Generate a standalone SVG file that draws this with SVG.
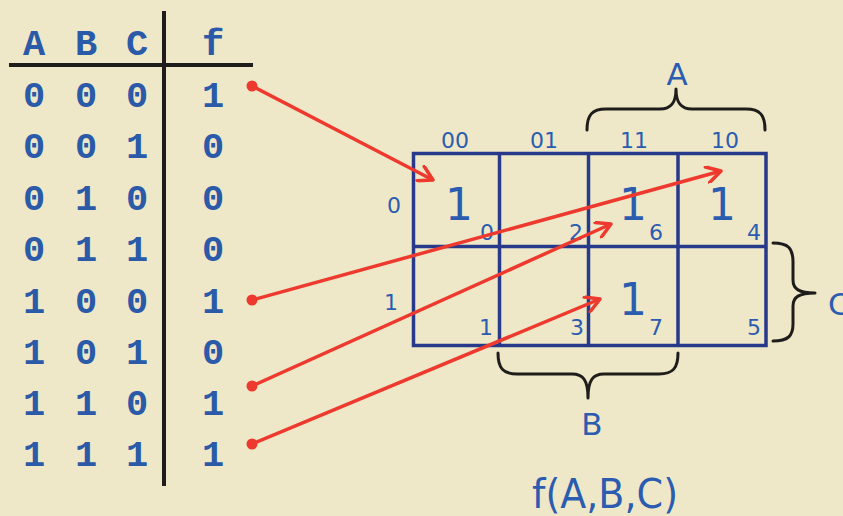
<svg xmlns="http://www.w3.org/2000/svg" width="843" height="516" viewBox="0 0 843 516">
<style>
.tt{font-family:"Liberation Mono","Courier New",monospace;font-weight:bold;font-size:37px;fill:#2a5aa8;text-anchor:middle}
.km{font-family:"DejaVu Sans",Tahoma,sans-serif;fill:#2b5cb0}
.lbl{font-size:22px;text-anchor:middle}
.idx{font-size:22px;text-anchor:end}
.big{font-size:44px;text-anchor:middle}
.var{font-size:31px;text-anchor:middle}
.rule{stroke:#1f1d1b;stroke-width:4;fill:none}
.grid{stroke:#26398a;stroke-width:3.5;fill:none}
.brace{stroke:#1f1d1b;stroke-width:3;fill:none;stroke-linecap:round;stroke-linejoin:round}
.arrow{stroke:#ee3a2e;stroke-width:3.5;fill:none;marker-end:url(#head);marker-start:url(#dot)}
</style>
<defs>
<marker id="head" viewBox="-16 -9 18 18" markerWidth="18" markerHeight="18" refX="0" refY="0" orient="auto" markerUnits="userSpaceOnUse">
<path d="M-14,-8 L0,0 L-14,8" fill="none" stroke="#ee3a2e" stroke-width="3.5" stroke-linecap="round" stroke-linejoin="round"/>
</marker>
<marker id="dot" viewBox="-6 -6 12 12" markerWidth="12" markerHeight="12" refX="0" refY="0" markerUnits="userSpaceOnUse">
<circle cx="0" cy="0" r="5.5" fill="#ee3a2e"/>
</marker>
</defs>
<rect width="843" height="516" fill="#efe8c8"/>

<g id="truth-table">
<line class="rule" x1="164" y1="11" x2="164" y2="486"/>
<line class="rule" x1="9" y1="65" x2="253" y2="65" stroke-width="3.5"/>
<text class="tt" x="34" y="55">A</text><text class="tt" x="86" y="55">B</text><text class="tt" x="137" y="55">C</text><text class="tt" x="213" y="55">f</text>
<text class="tt" x="34" y="107">0</text><text class="tt" x="86" y="107">0</text><text class="tt" x="137" y="107">0</text><text class="tt" x="213" y="107">1</text>
<text class="tt" x="34" y="158">0</text><text class="tt" x="86" y="158">0</text><text class="tt" x="137" y="158">1</text><text class="tt" x="213" y="158">0</text>
<text class="tt" x="34" y="210">0</text><text class="tt" x="86" y="210">1</text><text class="tt" x="137" y="210">0</text><text class="tt" x="213" y="210">0</text>
<text class="tt" x="34" y="261">0</text><text class="tt" x="86" y="261">1</text><text class="tt" x="137" y="261">1</text><text class="tt" x="213" y="261">0</text>
<text class="tt" x="34" y="313">1</text><text class="tt" x="86" y="313">0</text><text class="tt" x="137" y="313">0</text><text class="tt" x="213" y="313">1</text>
<text class="tt" x="34" y="364">1</text><text class="tt" x="86" y="364">0</text><text class="tt" x="137" y="364">1</text><text class="tt" x="213" y="364">0</text>
<text class="tt" x="34" y="415">1</text><text class="tt" x="86" y="415">1</text><text class="tt" x="137" y="415">0</text><text class="tt" x="213" y="415">1</text>
<text class="tt" x="34" y="466">1</text><text class="tt" x="86" y="466">1</text><text class="tt" x="137" y="466">1</text><text class="tt" x="213" y="466">1</text>
</g>

<g id="kmap" class="km">
<rect class="grid" x="413.5" y="153.5" width="352.5" height="192"/>
<line class="grid" x1="499.5" y1="153.5" x2="499.5" y2="345.5"/>
<line class="grid" x1="588.5" y1="153.5" x2="588.5" y2="345.5"/>
<line class="grid" x1="678" y1="153.5" x2="678" y2="345.5"/>
<line class="grid" x1="413.5" y1="246.5" x2="766" y2="246.5"/>
<text class="lbl" x="455" y="148">00</text>
<text class="lbl" x="544" y="148">01</text>
<text class="lbl" x="634" y="148">11</text>
<text class="lbl" x="725" y="148">10</text>
<text class="lbl" x="394" y="213">0</text>
<text class="lbl" x="391" y="310">1</text>
<text class="idx" x="494" y="240">0</text>
<text class="idx" x="583" y="240">2</text>
<text class="idx" x="663" y="240">6</text>
<text class="idx" x="761" y="240">4</text>
<text class="idx" x="493" y="335">1</text>
<text class="idx" x="584" y="335">3</text>
<text class="idx" x="663" y="335">7</text>
<text class="idx" x="761" y="335">5</text>
<text class="big" x="459" y="220">1</text>
<text class="big" x="633" y="220">1</text>
<text class="big" x="722" y="220">1</text>
<text class="big" x="633" y="315">1</text>
</g>

<g id="brace-A" class="km">
<path class="brace" d="M587,130 C587,115 592,109 606,109 L660,109 C671,109 676,103 676,89 C676,103 681,109 692,109 L746,109 C760,109 765,115 765,130"/>
<text class="var" x="677" y="85">A</text>
</g>
<g id="brace-B" class="km">
<path class="brace" d="M498,353 C498,368 503,374 517,374 L572,374 C583,374 588,380 588,398 C588,380 593,374 604,374 L659,374 C673,374 678,368 678,353"/>
<text class="var" x="592" y="435">B</text>
</g>
<g id="brace-C" class="km">
<path class="brace" d="M773,243 C788,243 793,248 793,262 L793,280 C793,289 799,293 815,293 C799,293 793,297 793,306 L793,324 C793,336 788,341 773,341"/>
<text class="var" x="828" y="315" style="text-anchor:start">C</text>
</g>
<g id="title" class="km">
<text x="605" y="508" font-size="40" text-anchor="middle" textLength="146" lengthAdjust="spacingAndGlyphs">f(A,B,C)</text>
</g>

<g id="connectors">
<line class="arrow" x1="252" y1="86" x2="433" y2="180"/>
<line class="arrow" x1="252" y1="300" x2="721" y2="171"/>
<line class="arrow" x1="252" y1="386" x2="611" y2="224"/>
<line class="arrow" x1="252" y1="444" x2="600" y2="299"/>
</g>
</svg>
